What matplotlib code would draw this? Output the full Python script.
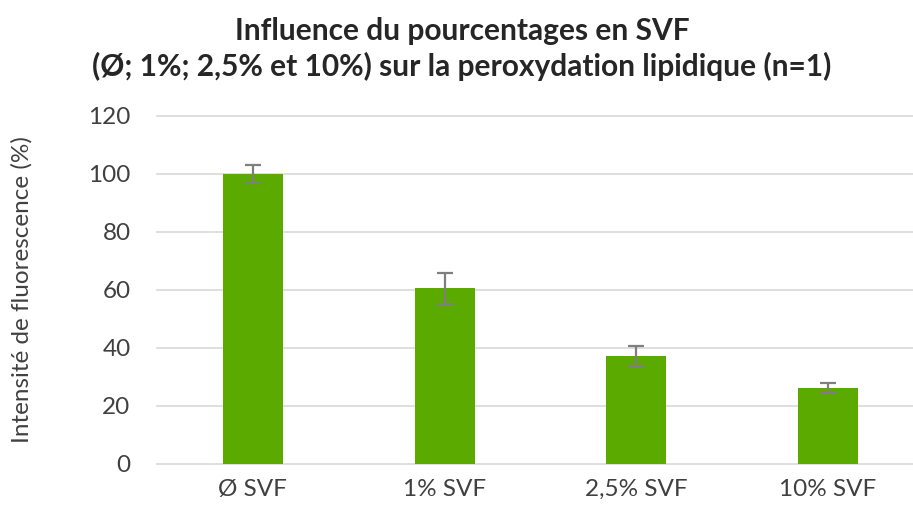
import numpy as np
import matplotlib.pyplot as plt

plt.rcParams['font.family'] = ['Lato', 'DejaVu Sans']

categories = ['Ø SVF', '1% SVF', '2,5% SVF', '10% SVF']
values = [100, 60.6, 37.2, 26.1]
errors = [3.2, 5.3, 3.4, 1.7]
yticks = [0, 20, 40, 60, 80, 100, 120]

fig = plt.figure(figsize=(9.13, 5.15), dpi=100)
ax = fig.add_axes([157 / 913, 1 - 464 / 515, 1 - 157 / 913, 348 / 515])

x = np.arange(len(categories))
for t in yticks:
    ax.axhline(t, color='#d9d9d9', lw=1.2, zorder=0, clip_on=False)

ax.bar(x, values, width=0.3125, color='#5BAA00', zorder=2)
ax.errorbar(x, values, yerr=errors, fmt='none', ecolor='#7f7f7f',
            elinewidth=1.6, capsize=6, capthick=1.6, zorder=3)

ax.set_xlim(-0.5, (913 - 252) / 192)
ax.set_ylim(0, 120)
ax.set_yticks(yticks)
ax.set_xticks(x)
ax.set_xticklabels(categories)
ax.tick_params(axis='both', length=0, labelsize=17.5, labelcolor='#404040')
ax.tick_params(axis='y', pad=19)
ax.tick_params(axis='x', pad=11)
for s in ax.spines.values():
    s.set_visible(False)

ax.set_ylabel('Intensité de fluorescence (%)', fontsize=17.5, color='#404040')
ax.yaxis.set_label_coords((33 - 157) / 756, 0.5)

fig.text(462 / 913, 1 - 49 / 515,
         'Influence du pourcentages en SVF\n(Ø; 1%; 2,5% et 10%) sur la peroxydation lipidique (n=1)',
         ha='center', va='center', fontsize=21.5, fontweight='bold', color='#262626',
         linespacing=1.3)

fig.savefig('out.png', dpi=100)
